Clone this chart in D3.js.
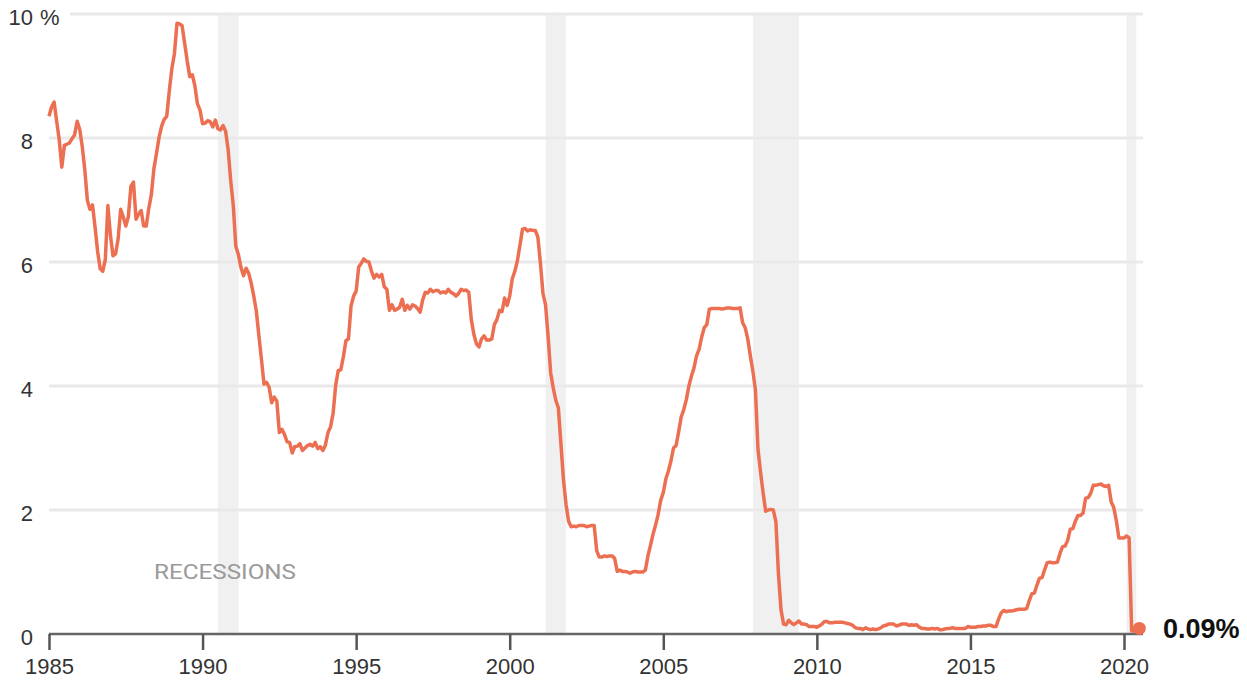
<!DOCTYPE html>
<html>
<head>
<meta charset="utf-8">
<script src="https://cdn.jsdelivr.net/npm/d3@7"></script>
<style>
  html, body { margin: 0; padding: 0; background: #fff; }
  svg { display: block; }
</style>
</head>
<body>
<svg id="chart" width="1247" height="686"></svg>
<script>
// ---- Data (monthly effective federal funds rate, %) ----
const startYear = 1985;
const rates1985_1989 = [
  8.35, 8.50, 8.58, 8.27, 7.97, 7.53, 7.88, 7.90, 7.92, 7.99, 8.05, 8.27,
  8.14, 7.86, 7.48, 6.99, 6.85, 6.92, 6.56, 6.17, 5.89, 5.85, 6.04, 6.91,
  6.43, 6.10, 6.13, 6.37, 6.85, 6.73, 6.58, 6.73, 7.22, 7.29, 6.69, 6.77,
  6.83, 6.58, 6.58, 6.87, 7.09, 7.51, 7.75, 8.01, 8.19, 8.30, 8.35, 8.76,
  9.12, 9.36, 9.85, 9.84, 9.81, 9.53, 9.24, 8.99, 9.02, 8.84, 8.55, 8.45
];
const rates1990_1994 = [
  8.23, 8.24, 8.28, 8.26, 8.18, 8.29, 8.15, 8.13, 8.20, 8.11, 7.81, 7.31,
  6.91, 6.25, 6.12, 5.91, 5.78, 5.90, 5.82, 5.66, 5.45, 5.21, 4.81, 4.43,
  4.03, 4.06, 3.98, 3.73, 3.82, 3.76, 3.25, 3.30, 3.22, 3.10, 3.09, 2.92,
  3.02, 3.03, 3.07, 2.96, 3.00, 3.04, 3.06, 3.03, 3.09, 2.99, 3.02, 2.96,
  3.05, 3.25, 3.34, 3.56, 4.01, 4.25, 4.26, 4.47, 4.73, 4.76, 5.29, 5.45
];
const rates1995_1999 = [
  5.53, 5.92, 5.98, 6.05, 6.01, 6.00, 5.85, 5.74, 5.80, 5.76, 5.80, 5.60,
  5.56, 5.22, 5.31, 5.22, 5.24, 5.27, 5.40, 5.22, 5.30, 5.24, 5.31, 5.29,
  5.25, 5.19, 5.39, 5.51, 5.50, 5.56, 5.52, 5.54, 5.54, 5.50, 5.52, 5.50,
  5.56, 5.51, 5.49, 5.45, 5.49, 5.56, 5.54, 5.55, 5.51, 5.07, 4.83, 4.68,
  4.63, 4.76, 4.81, 4.74, 4.74, 4.76, 4.99, 5.07, 5.22, 5.20, 5.42, 5.30
];
const rates2000_2004 = [
  5.45, 5.73, 5.85, 6.02, 6.27, 6.53, 6.54, 6.50, 6.52, 6.51, 6.51, 6.40,
  5.98, 5.49, 5.31, 4.80, 4.21, 3.97, 3.77, 3.65, 3.07, 2.49, 2.09, 1.82,
  1.73, 1.74, 1.73, 1.75, 1.75, 1.75, 1.73, 1.74, 1.75, 1.75, 1.34, 1.24,
  1.24, 1.26, 1.25, 1.26, 1.26, 1.22, 1.01, 1.03, 1.01, 1.01, 1.00, 0.98,
  1.00, 1.01, 1.00, 1.00, 1.00, 1.03, 1.26, 1.43, 1.61, 1.76, 1.93, 2.16
];
const rates2005_2009 = [
  2.28, 2.50, 2.63, 2.79, 3.00, 3.04, 3.26, 3.50, 3.62, 3.78, 4.00, 4.16,
  4.29, 4.49, 4.59, 4.79, 4.94, 4.99, 5.24, 5.25, 5.25, 5.25, 5.25, 5.24,
  5.25, 5.26, 5.26, 5.25, 5.25, 5.25, 5.26, 5.02, 4.94, 4.76, 4.49, 4.24,
  3.94, 2.98, 2.61, 2.28, 1.98, 2.00, 2.01, 2.00, 1.81, 0.97, 0.39, 0.16,
  0.15, 0.22, 0.18, 0.15, 0.18, 0.21, 0.16, 0.16, 0.15, 0.12, 0.12, 0.12
];
const rates2010_2014 = [
  0.11, 0.13, 0.16, 0.20, 0.20, 0.18, 0.18, 0.19, 0.19, 0.19, 0.19, 0.18,
  0.17, 0.16, 0.14, 0.10, 0.09, 0.09, 0.07, 0.10, 0.08, 0.07, 0.08, 0.07,
  0.08, 0.10, 0.13, 0.14, 0.16, 0.16, 0.16, 0.13, 0.14, 0.16, 0.16, 0.16,
  0.14, 0.15, 0.14, 0.15, 0.11, 0.09, 0.09, 0.08, 0.08, 0.09, 0.08, 0.09,
  0.07, 0.07, 0.08, 0.09, 0.09, 0.10, 0.09, 0.09, 0.09, 0.09, 0.09, 0.12
];
const rates2015_2020 = [
  0.11, 0.11, 0.11, 0.12, 0.12, 0.13, 0.13, 0.14, 0.14, 0.12, 0.12, 0.24,
  0.34, 0.38, 0.36, 0.37, 0.37, 0.38, 0.39, 0.40, 0.40, 0.40, 0.41, 0.54,
  0.65, 0.66, 0.79, 0.90, 0.91, 1.04, 1.15, 1.16, 1.15, 1.15, 1.16, 1.30,
  1.41, 1.42, 1.51, 1.69, 1.70, 1.82, 1.91, 1.91, 1.95, 2.19, 2.20, 2.27,
  2.40, 2.40, 2.41, 2.42, 2.39, 2.38, 2.40, 2.13, 2.04, 1.83, 1.55, 1.55,
  1.55, 1.58, 1.55, 0.05, 0.05, 0.08, 0.09
];
const recessions = [[1990.5, 1991.17], [2001.17, 2001.83], [2007.92, 2009.42], [2020.08, 2020.4]];
const xTicks = [1985, 1990, 1995, 2000, 2005, 2010, 2015, 2020];
const yTicks = [0, 2, 4, 6, 8, 10];
const lastLabel = "0.09%";
const recessionLabel = "RECESSIONS";

// ---- Build series ----
const allRates = [].concat(rates1985_1989, rates1990_1994, rates1995_1999,
  rates2000_2004, rates2005_2009, rates2010_2014, rates2015_2020);
const series = allRates.map((v, i) => ({ t: startYear + i / 12, v }));

// ---- Layout ----
const svg = d3.select("#chart");
const x = d3.scaleLinear().domain([1985, 2020]).range([49, 1124]);
const y = d3.scaleLinear().domain([0, 10]).range([634, 14]);
const gridRight = 1143;
const lineColor = "#ec6f52";
const font = "'Liberation Sans', Arial, sans-serif";

// recession bands
svg.append("g").selectAll("rect").data(recessions).join("rect")
  .attr("x", d => x(d[0]))
  .attr("width", d => x(d[1]) - x(d[0]))
  .attr("y", y(10))
  .attr("height", y(0) - y(10))
  .attr("fill", "#f0f0f0");

// gridlines
svg.append("g").selectAll("line").data(yTicks.filter(d => d > 0)).join("line")
  .attr("x1", d => d === 10 ? 70 : x(1985))
  .attr("x2", gridRight)
  .attr("y1", d => y(d)).attr("y2", d => y(d))
  .attr("stroke", "#e9e9e9")
  .attr("stroke-width", 3);

// y labels
const yl = svg.append("g").attr("font-family", font).attr("font-size", 22).attr("fill", "#333");
yl.selectAll("text").data(yTicks).join("text")
  .attr("x", 33)
  .attr("y", d => y(d) + 5)
  .attr("text-anchor", "end")
  .attr("dominant-baseline", "middle")
  .text(d => d);
yl.append("text")
  .attr("x", 40).attr("y", y(10) + 5)
  .attr("dominant-baseline", "middle")
  .text("%");

// x axis
const xAxis = d3.axisBottom(x).tickValues(xTicks).tickFormat(d3.format("d")).tickSize(16).tickPadding(8);
const gx = svg.append("g").attr("transform", `translate(0,${y(0)})`).call(xAxis);
gx.select(".domain").attr("d", `M${x(1985)},0H${gridRight}`).attr("stroke", "#666").attr("stroke-width", 2.5);
gx.selectAll(".tick line").attr("stroke", "#555").attr("stroke-width", 2.5);
gx.selectAll(".tick text").attr("font-family", font).attr("font-size", 22).attr("fill", "#333");

// recessions label
svg.append("text")
  .attr("x", 154).attr("y", 579)
  .attr("font-family", "'Roboto', sans-serif")
  .attr("font-size", 21)
  .attr("fill", "#9a9a9a")
  .attr("textLength", 142)
  .attr("lengthAdjust", "spacingAndGlyphs")
  .text(recessionLabel);

// line
const line = d3.line().x(d => x(d.t)).y(d => y(d.v));
svg.append("path").datum(series)
  .attr("d", line)
  .attr("fill", "none")
  .attr("stroke", lineColor)
  .attr("stroke-width", 3.5)
  .attr("stroke-linejoin", "round");

// end dot + label
const last = series[series.length - 1];
svg.append("circle")
  .attr("cx", x(last.t)).attr("cy", y(last.v))
  .attr("r", 6.5).attr("fill", lineColor);
svg.append("text")
  .attr("x", 1163).attr("y", y(last.v) + 10)
  .attr("font-family", font).attr("font-weight", "bold")
  .attr("font-size", 27).attr("fill", "#111")
  .text(lastLabel);
</script>
</body>
</html>
